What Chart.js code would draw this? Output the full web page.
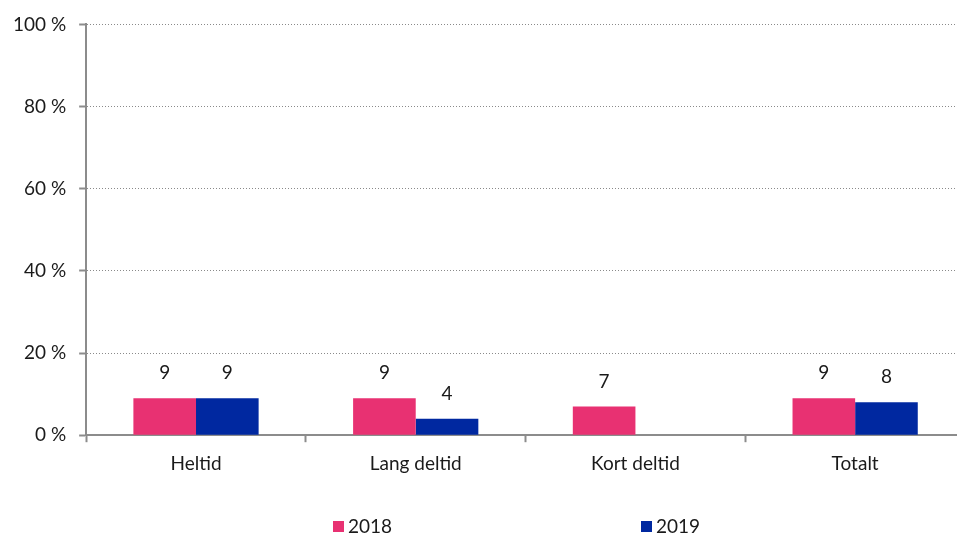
<!DOCTYPE html>
<html>
<head>
<meta charset="utf-8">
<script src="https://cdn.jsdelivr.net/npm/chart.js@4"></script>
<style>
  html, body { margin: 0; padding: 0; background: #fff; overflow: hidden; }
  #wrap { width: 965px; height: 535px; position: relative; }
</style>
</head>
<body>
<div id="wrap"><canvas id="chart"></canvas></div>
<script>
const categories = ['Heltid', 'Lang deltid', 'Kort deltid', 'Totalt'];
const seriesNames = ['2018', '2019'];
const values2018 = [9, 9, 7, 9];
const values2019 = [9, 4, null, 8];
const yTicks = [0, 20, 40, 60, 80, 100];

const pink = '#E83172';
const blue = '#0028A0';
const axisGrey = '#8c8c8c';
const fontFamily = 'Lato, "Noto Sans", sans-serif';
const fontSize = 19;

// value labels above each bar
const barLabels = {
    id: 'barLabels',
    afterDatasetsDraw(chart) {
        const ctx = chart.ctx;
        ctx.save();
        ctx.font = `${fontSize}px ${fontFamily}`;
        ctx.fillStyle = '#1a1a1a';
        ctx.textAlign = 'center';
        ctx.textBaseline = 'middle';
        chart.data.datasets.forEach((ds, i) => {
            chart.getDatasetMeta(i).data.forEach((bar, j) => {
                const v = ds.data[j];
                if (v === null || v === undefined) return;
                ctx.fillText(String(v), bar.x, bar.y - 25);
            });
        });
        ctx.restore();
    }
};

// legend spread wide under the plot, like the original
const wideLegend = {
    id: 'wideLegend',
    afterDraw(chart) {
        const ctx = chart.ctx;
        const slots = [333, 641];
        const y = 527;
        ctx.save();
        ctx.font = `${fontSize}px ${fontFamily}`;
        ctx.textBaseline = 'middle';
        ctx.textAlign = 'left';
        chart.data.datasets.forEach((ds, i) => {
            const x = slots[i];
            ctx.fillStyle = ds.backgroundColor;
            ctx.fillRect(x, y - 6, 11, 11);
            ctx.fillStyle = '#1a1a1a';
            ctx.fillText(ds.label, x + 15, y);
        });
        ctx.restore();
    }
};

new Chart(document.getElementById('chart'), {
    type: 'bar',
    data: {
        labels: categories,
        datasets: [
            { label: seriesNames[0], data: values2018, backgroundColor: pink },
            { label: seriesNames[1], data: values2019, backgroundColor: blue }
        ]
    },
    options: {
        responsive: true,
        maintainAspectRatio: false,
        animation: false,
        categoryPercentage: 0.57,
        barPercentage: 1.0,
        layout: { padding: { top: 17, right: 0, bottom: 50, left: 0 } },
        plugins: {
            legend: { display: false },
            tooltip: { enabled: false }
        },
        scales: {
            x: {
                grid: {
                    offset: true,
                    drawOnChartArea: false,
                    tickLength: 7,
                    tickColor: axisGrey,
                    tickWidth: 2
                },
                border: { color: axisGrey, width: 2 },
                ticks: {
                    color: '#1a1a1a',
                    font: { family: fontFamily, size: fontSize },
                    padding: 10
                }
            },
            y: {
                min: 0,
                max: 100,
                afterBuildTicks: (scale) => {
                    scale.ticks = yTicks.map(v => ({ value: v }));
                },
                grid: {
                    color: '#8a8a8a',
                    lineWidth: 1,
                    tickLength: 7,
                    tickColor: axisGrey,
                    tickWidth: 2
                },
                border: { color: axisGrey, width: 2, dash: [1, 2] },
                ticks: {
                    color: '#1a1a1a',
                    font: { family: fontFamily, size: fontSize },
                    padding: 13,
                    callback: (v) => v + ' %'
                }
            }
        }
    },
    plugins: [barLabels, wideLegend]
});
</script>
</body>
</html>
